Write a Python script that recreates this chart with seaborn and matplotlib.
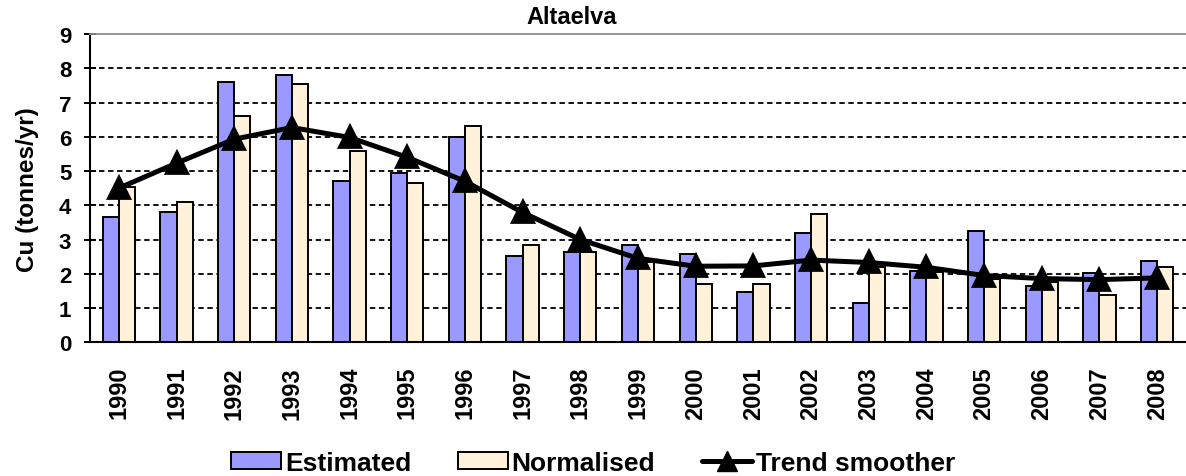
import matplotlib
matplotlib.use("Agg")
import matplotlib.pyplot as plt
from matplotlib.patches import Patch
from matplotlib.lines import Line2D
import numpy as np
import pandas as pd
import seaborn as sns

# Annual copper load, Altaelva
years = [str(y) for y in range(1990, 2009)]
estimated = [3.65, 3.81, 7.59, 7.81, 4.70, 4.94, 5.98, 2.53, 2.64, 2.85,
             2.58, 1.48, 3.19, 1.15, 2.09, 3.26, 1.63, 2.02, 2.36]
normalised = [4.52, 4.10, 6.60, 7.54, 5.58, 4.65, 6.30, 2.85, 2.64, 2.35,
              1.70, 1.70, 3.75, 2.19, 2.04, 1.85, 1.75, 1.38, 2.19]
trend = [4.50, 5.23, 5.93, 6.27, 5.98, 5.40, 4.70, 3.79, 3.00, 2.45,
         2.22, 2.23, 2.40, 2.33, 2.19, 1.95, 1.86, 1.83, 1.88]
series_names = ["Estimated", "Normalised", "Trend smoother"]
y_ticks = list(range(0, 10))

sns.set_theme(style="white")
plt.rcParams["font.family"] = ["Liberation Sans", "DejaVu Sans"]
plt.rcParams["font.weight"] = "bold"
plt.rcParams["text.color"] = "black"
plt.rcParams["axes.labelcolor"] = "black"
plt.rcParams["xtick.color"] = "black"
plt.rcParams["ytick.color"] = "black"

bar_colors = {"Estimated": "#9999ff", "Normalised": "#fff1da"}

df = pd.DataFrame({
    "year": years * 2,
    "load": estimated + normalised,
    "series": [series_names[0]] * len(years) + [series_names[1]] * len(years),
})

fig = plt.figure(figsize=(11.86, 4.77), dpi=100)
ax = fig.add_axes([90 / 1186, 1 - 343.3 / 477, 1 - 90 / 1186, (343.3 - 35) / 477])

sns.barplot(data=df, x="year", y="load", hue="series", order=years,
            hue_order=series_names[:2], palette=bar_colors, width=0.56,
            edgecolor="black", linewidth=1.4, saturation=1, legend=False,
            ax=ax, zorder=2)

sns.pointplot(x=years, y=trend, order=years, color="black", markers="^",
              markersize=14, linewidth=3.6, errorbar=None, ax=ax, zorder=4)

ax.set_xlim(-0.5, len(years) - 0.5)
ax.set_ylim(0, 9)
ax.set_yticks(y_ticks)
ax.set_yticklabels([str(t) for t in y_ticks], fontsize=16, fontweight="bold")

# dashed gridlines for the inner ticks
for t in y_ticks[1:-1]:
    ax.axhline(t, color="black", lw=1.3, ls=(0, (3, 2)), zorder=1)

ax.set_xticks(range(len(years)))
ax.set_xticklabels(years, rotation=90, fontsize=17, fontweight="bold")
ax.set_xticks(np.arange(-0.5, len(years), 1.0), minor=True)
ax.tick_params(axis="x", which="major", length=0, pad=17)
ax.tick_params(axis="x", which="minor", length=7, width=1.4, direction="out")
ax.tick_params(axis="y", which="major", length=9, width=1.4, direction="inout",
               pad=9, left=True)

ax.set_xlabel("")
ax.set_ylabel("Cu (tonnes/yr)", fontsize=17.5, fontweight="bold", labelpad=14)

for side in ("left", "bottom"):
    ax.spines[side].set_color("black")
    ax.spines[side].set_linewidth(1.5)
ax.spines["top"].set_color("#8c8c8c")
ax.spines["top"].set_linewidth(1.3)
ax.spines["right"].set_visible(False)

fig.text(572 / 1186, 1 - 18 / 477, "Altaelva", ha="center", va="center",
         fontsize=17, fontweight="bold")

handles = [
    Patch(facecolor=bar_colors["Estimated"], edgecolor="black", linewidth=1.4),
    Patch(facecolor=bar_colors["Normalised"], edgecolor="black", linewidth=1.4),
    Line2D([], [], color="black", lw=3.6, marker="^", markersize=14),
]
fig.legend(handles, series_names, loc="center", bbox_to_anchor=(593 / 1186, 1 - 464 / 477),
           ncol=3, frameon=False, handlelength=1.9, handleheight=0.6,
           handletextpad=0.15, columnspacing=1.75,
           prop={"size": 19, "weight": "bold"})

fig.savefig("out.png", dpi=100)
